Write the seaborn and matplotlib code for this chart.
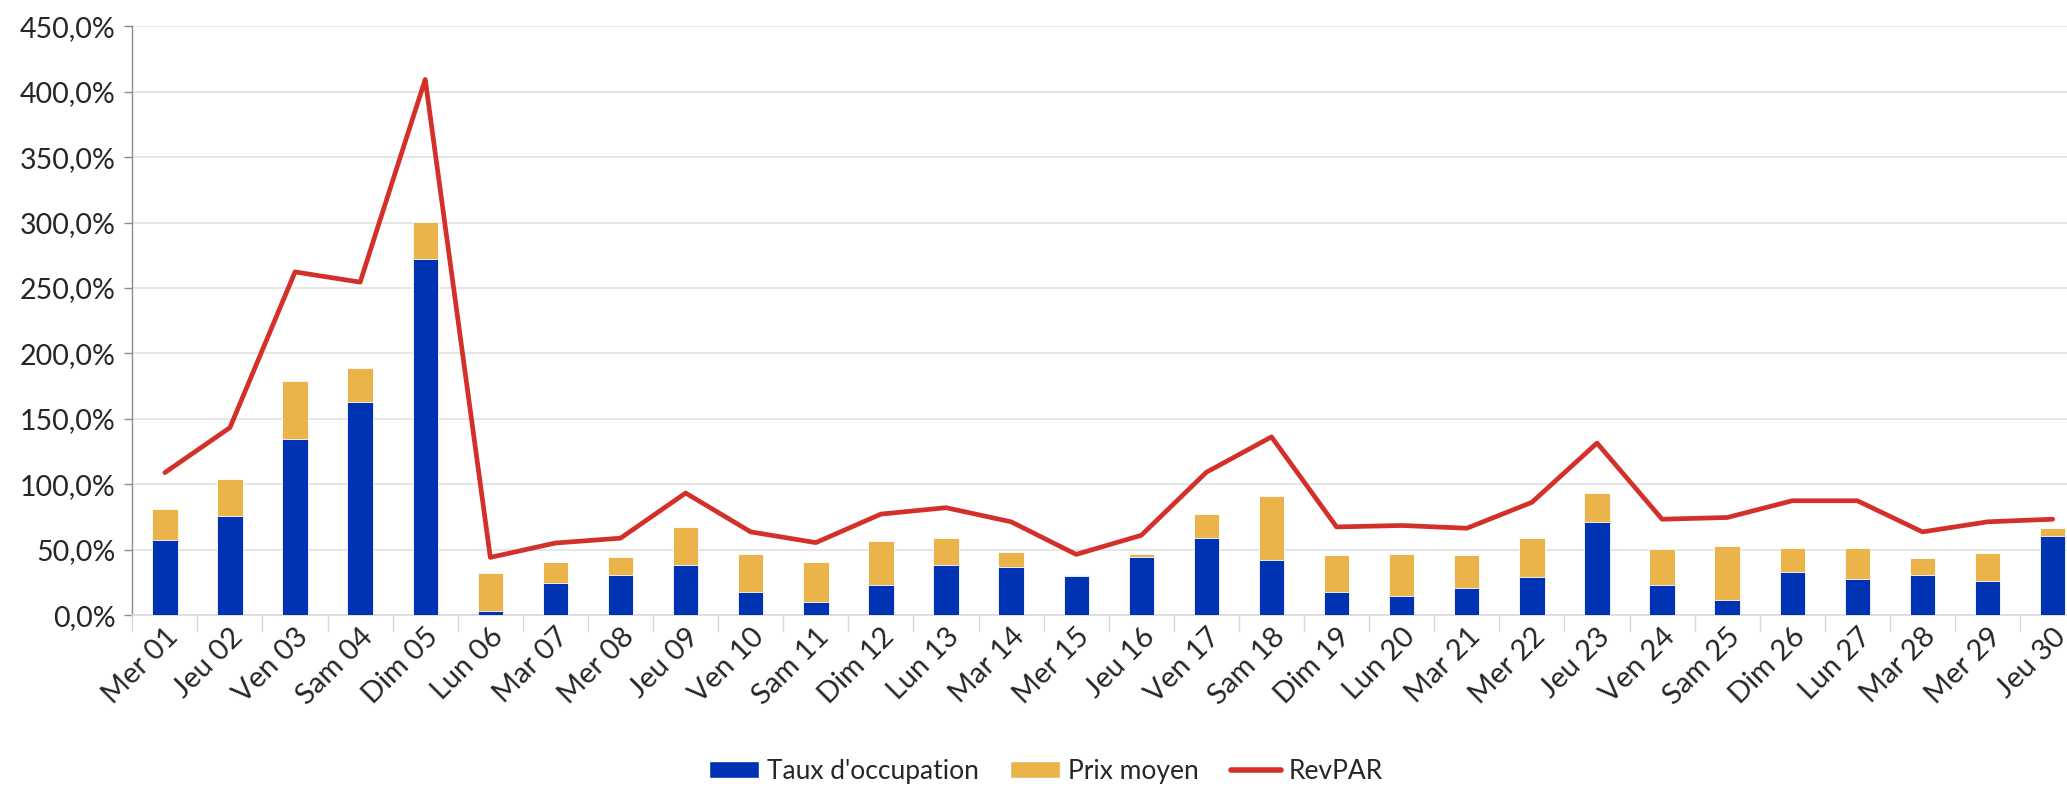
import numpy as np
import pandas as pd
import matplotlib
matplotlib.use('Agg')
import matplotlib.pyplot as plt
import seaborn as sns
from matplotlib.ticker import FuncFormatter, MultipleLocator, FixedLocator
from matplotlib.patches import Patch
from matplotlib.lines import Line2D

# -----------------------------
# Données
# -----------------------------
jours = ['Mer 01', 'Jeu 02', 'Ven 03', 'Sam 04', 'Dim 05', 'Lun 06', 'Mar 07', 'Mer 08',
         'Jeu 09', 'Ven 10', 'Sam 11', 'Dim 12', 'Lun 13', 'Mar 14', 'Mer 15', 'Jeu 16',
         'Ven 17', 'Sam 18', 'Dim 19', 'Lun 20', 'Mar 21', 'Mer 22', 'Jeu 23', 'Ven 24',
         'Sam 25', 'Dim 26', 'Lun 27', 'Mar 28', 'Mer 29', 'Jeu 30']

taux_occupation = [57.6, 76.1, 134.9, 163.1, 272.3, 3.4, 24.4, 30.7, 38.0, 17.4,
                   9.7, 23.3, 38.2, 36.7, 29.7, 44.4, 58.7, 41.8, 17.4, 14.6,
                   20.8, 29.5, 71.3, 23.3, 11.3, 33.1, 27.9, 30.5, 25.9, 60.3]

prix_moyen = [23.5, 28.1, 44.1, 25.9, 27.9, 28.5, 16.3, 13.7, 29.5, 29.5,
              30.8, 33.1, 20.8, 11.2, 1.1, 2.5, 18.7, 49.2, 28.2, 32.3,
              24.8, 29.5, 22.0, 27.0, 41.5, 18.4, 23.6, 13.3, 21.8, 5.9]

revpar = [108.9, 143.3, 262.3, 254.5, 409.4, 44.1, 55.1, 58.8, 93.3, 63.6,
          55.4, 77.2, 82.1, 71.3, 46.4, 61.0, 109.2, 136.2, 67.4, 68.5,
          66.4, 86.2, 131.5, 73.3, 74.6, 87.4, 87.4, 63.6, 71.3, 73.3]

bleu = '#0033B4'
orange = '#EBB44A'
rouge = '#D4302A'

df = pd.DataFrame({'jour': jours, 'taux': taux_occupation, 'prix': prix_moyen, 'revpar': revpar})
df['total'] = df['taux'] + df['prix']

sns.set_style('white')
plt.rcParams['font.family'] = ['Lato', 'DejaVu Sans']

fig = plt.figure(figsize=(20.67, 7.89), dpi=100)
ax = fig.add_axes([0.064, 0.2204, 1.0 - 0.064, 0.9666 - 0.2204])

# barres empilées : total (orange) puis taux (bleu) par-dessus
sns.barplot(data=df, x='jour', y='total', color=orange, width=0.39, saturation=1,
            edgecolor='white', linewidth=0.6, ax=ax, zorder=2)
sns.barplot(data=df, x='jour', y='taux', color=bleu, width=0.39, saturation=1,
            edgecolor='white', linewidth=0.6, ax=ax, zorder=3)

# ligne RevPAR
sns.lineplot(x=np.arange(len(jours)), y=df['revpar'], color=rouge, linewidth=3.4,
             ax=ax, zorder=4)

ax.set_ylim(0, 450)
ax.set_xlim(-0.5, 29.22)
ax.yaxis.set_major_locator(MultipleLocator(50))
ax.yaxis.set_major_formatter(FuncFormatter(lambda v, p: f"{v:.1f}%".replace('.', ',')))
ax.grid(axis='y', color='#e2e2e2', linewidth=1.2, zorder=0)
ax.set_axisbelow(True)

ax.set_xlabel('')
ax.set_ylabel('')

for s in ['top', 'right']:
    ax.spines[s].set_visible(False)
ax.spines['left'].set_color('#8c8c8c')
ax.spines['left'].set_linewidth(1.0)
ax.spines['bottom'].set_color('#d9d9d9')
ax.spines['bottom'].set_linewidth(1.2)

ax.tick_params(axis='y', which='major', length=6, width=1, color='#8c8c8c',
               labelsize=20.5, pad=6, left=True)
ax.tick_params(axis='x', which='major', length=0, labelsize=21, pad=6)
ax.xaxis.set_minor_locator(FixedLocator(np.arange(-0.5, 30, 1)))
ax.tick_params(axis='x', which='minor', length=12, width=1, color='#d9d9d9', bottom=True)

plt.setp(ax.get_xticklabels(), rotation=45, ha='right', rotation_mode='anchor')

handles = [Patch(facecolor=bleu, label="Taux d'occupation"),
           Patch(facecolor=orange, label='Prix moyen'),
           Line2D([0], [0], color=rouge, linewidth=4, label='RevPAR')]
fig.legend(handles=handles, loc='center', bbox_to_anchor=(0.506, 0.022), ncol=3,
           frameon=False, fontsize=19, handlelength=1.9, handleheight=0.6,
           handletextpad=0.3, columnspacing=1.2, borderpad=0)

fig.savefig('out.png', dpi=100)
